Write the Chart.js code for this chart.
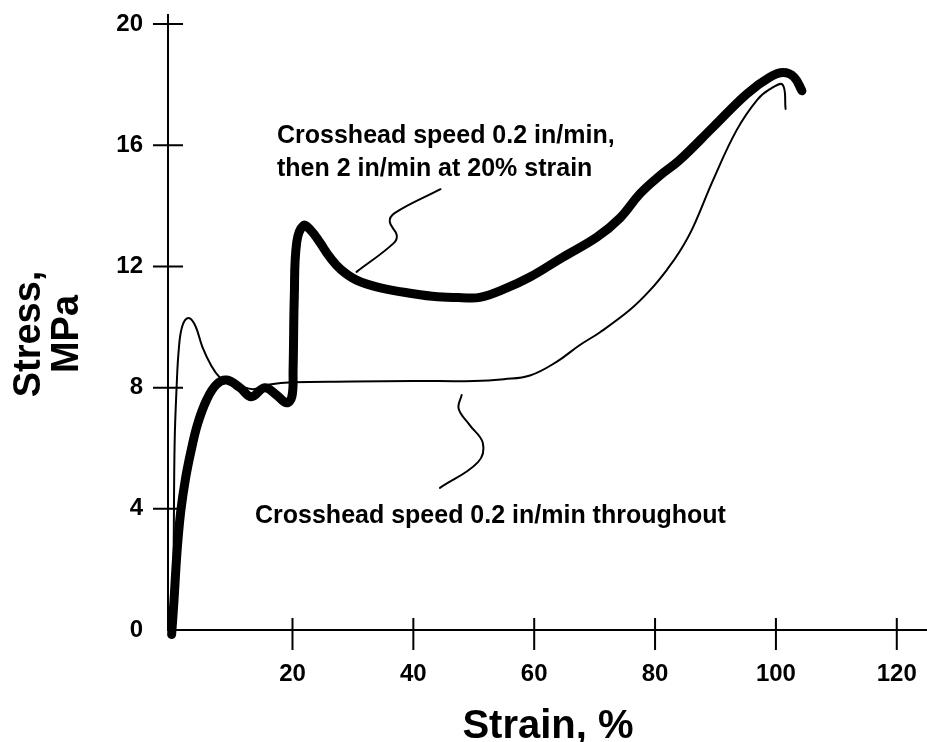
<!DOCTYPE html>
<html>
<head>
<meta charset="utf-8">
<script src="https://cdn.jsdelivr.net/npm/chart.js@4.4.0/dist/chart.umd.min.js"></script>
<style>
html, body { margin: 0; padding: 0; background: #fff; }
</style>
</head>
<body>
<canvas id="stressChart" width="927" height="742"></canvas>
<script>
// tick values
const xTicks = [20, 40, 60, 80, 100, 120];
const yTicks = [0, 4, 8, 12, 16, 20];

// 0.2 in/min, then 2 in/min at 20% strain (heavy curve)
const strainFast = [0, 0.4, 0.9, 1.5, 2.3, 3.2, 4.3, 5.8, 7.4, 9.1, 11.3, 13.2, 15.4, 17.4, 19.0, 19.9,
    20.1, 20.3, 20.7, 21.8, 23, 24.5, 26.2, 28, 30.6, 34.4, 40, 44, 48, 51, 55, 59.3, 64.7, 70.4,
    74.2, 77.5, 80.8, 84, 89.6, 95.2, 99, 101.2, 103, 104.3];
const stressFast = [-0.15, 1.0, 2.6, 3.9, 5.0, 5.9, 6.8, 7.6, 8.1, 8.25, 8.0, 7.7, 8.0, 7.75, 7.5, 7.7,
    8.6, 11, 12.8, 13.35, 13.2, 12.8, 12.3, 11.9, 11.55, 11.3, 11.1, 11.0, 10.97, 10.98, 11.25, 11.65, 12.3, 12.97,
    13.6, 14.4, 15.0, 15.5, 16.6, 17.7, 18.25, 18.4, 18.25, 17.8];

// 0.2 in/min throughout (light curve)
const strainSlow = [0.2, 0.35, 0.5, 0.8, 1.2, 1.8, 2.8, 3.9, 5.1, 6.5, 7.9, 9.5, 11.5, 13.5, 16.2, 20, 30,
    40, 50, 55, 59.3, 63.7, 67.5, 70.9, 75.8, 79.1, 82, 84.1, 86.3, 89.6, 93.5, 96.9, 99, 101.1, 101.6];
const stressSlow = [-0.1, 3, 6.2, 7.9, 9.3, 10.05, 10.3, 10.05, 9.34, 8.75, 8.35, 8.2, 8.05, 7.95, 8.1, 8.18, 8.2,
    8.22, 8.22, 8.28, 8.4, 8.85, 9.4, 9.83, 10.56, 11.2, 11.9, 12.5, 13.3, 14.85, 16.5, 17.5, 17.85, 18.0, 17.2];

// leader lines from the notes to the curves
const leaderFastX = [44.5, 36.9, 36.1, 37.25, 36.75, 30.6];
const leaderFastY = [14.55, 13.76, 13.47, 13.04, 12.77, 11.82];
const leaderSlowX = [48.0, 47.5, 49.3, 51.5, 50.7, 44.4];
const leaderSlowY = [7.76, 7.3, 6.77, 6.17, 5.54, 4.69];

const toPoints = (xs, ys) => xs.map((x, i) => ({ x: x, y: ys[i] }));

const FONT = '"Liberation Sans", Arial, Helvetica, sans-serif';

const extras = {
    id: "extras",
    afterDraw(chart) {
        const { ctx, chartArea, scales } = chart;
        ctx.save();
        ctx.strokeStyle = "#000";
        ctx.lineWidth = 2;
        ctx.beginPath();
        xTicks.forEach(v => {
            const px = scales.x.getPixelForValue(v);
            ctx.moveTo(px, chartArea.bottom - 12);
            ctx.lineTo(px, chartArea.bottom + 20);
        });
        yTicks.forEach(v => {
            if (v === 0) return;
            const py = scales.y.getPixelForValue(v);
            ctx.moveTo(chartArea.left - 15, py);
            ctx.lineTo(chartArea.left + 15, py);
        });
        ctx.stroke();

        ctx.fillStyle = "#000";
        ctx.textBaseline = "alphabetic";

        // notes
        ctx.font = "bold 25px " + FONT;
        ctx.textAlign = "left";
        ctx.fillText("Crosshead speed 0.2 in/min,", 277, 143);
        ctx.fillText("then 2 in/min at 20% strain", 277, 176);
        ctx.fillText("Crosshead speed 0.2 in/min throughout", 255, 523);

        // axis titles
        ctx.font = "bold 40px " + FONT;
        ctx.textAlign = "center";
        ctx.fillText("Strain, %", 548, 738);

        ctx.font = "bold 38px " + FONT;
        ctx.save();
        ctx.translate(40, 334);
        ctx.rotate(-Math.PI / 2);
        ctx.fillText("Stress,", 0, 0);
        ctx.restore();
        ctx.save();
        ctx.translate(78, 334);
        ctx.rotate(-Math.PI / 2);
        ctx.fillText("MPa", 0, 0);
        ctx.restore();

        ctx.restore();
    }
};

const ctx =
    document
        .getElementById(
            "stressChart"
        );

const lineStyle = {
    borderColor: "#000",
    pointRadius: 0,
    tension: 0.4,
    fill: false,
    clip: false,
    borderCapStyle: "round",
    borderJoinStyle: "round"
};

const chart =
    new Chart(ctx, {
        type: "line",
        data: {
            datasets: [
                { ...lineStyle, data: toPoints(strainFast, stressFast), borderWidth: 9 },
                { ...lineStyle, data: toPoints(strainSlow, stressSlow), borderWidth: 2 },
                { ...lineStyle, data: toPoints(leaderFastX, leaderFastY), borderWidth: 2 },
                { ...lineStyle, data: toPoints(leaderSlowX, leaderSlowY), borderWidth: 2 }
            ]
        },
        options: {
            responsive: false,
            animation: false,
            devicePixelRatio: 1,
            layout: { padding: { top: 15, right: 0, bottom: 0, left: 0 } },
            plugins: {
                legend: { display: false },
                tooltip: { enabled: false }
            },
            scales: {
                x: {
                    type: "linear",
                    min: -0.6,
                    max: 125,
                    afterFit: s => {
                        s.height = 112;
                        s.paddingLeft = 0;
                        s.paddingRight = 0;
                    },
                    afterBuildTicks: s => { s.ticks = xTicks.map(v => ({ value: v })); },
                    grid: { display: false, drawTicks: false },
                    border: { display: true, color: "#000", width: 2 },
                    ticks: {
                        color: "#000",
                        font: { family: FONT, size: 24, weight: "bold" },
                        padding: 30,
                        maxRotation: 0,
                        autoSkip: false
                    }
                },
                y: {
                    type: "linear",
                    min: 0,
                    max: 20.3,
                    afterFit: s => {
                        s.width = 168;
                        s.paddingTop = 0;
                        s.paddingBottom = 0;
                    },
                    afterBuildTicks: s => { s.ticks = yTicks.map(v => ({ value: v })); },
                    grid: { display: false, drawTicks: false },
                    border: { display: true, color: "#000", width: 2 },
                    ticks: {
                        color: "#000",
                        font: { family: FONT, size: 24, weight: "bold" },
                        padding: 25,
                        autoSkip: false
                    }
                }
            }
        },
        plugins: [extras]
    });
</script>
</body>
</html>
